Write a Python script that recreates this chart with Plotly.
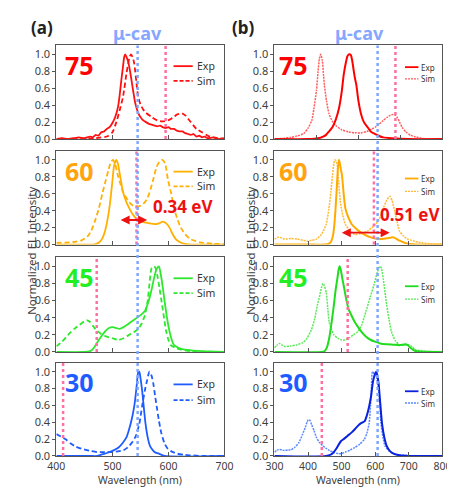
import plotly.graph_objects as go

# ---------------- data (wavelength nm, normalized EL) ----------------
# (a) column
a75_exp_wl = [400,410,420,430,440,450,460,465,470,475,480,485,490,495,500,505,510,513,516,519,521,523,525,528,531,534,537,540,543,546,550,555,560,565,570,575,580,585,590,595,600,605,610,615,620,625,630,635,640,645,650,655,660,665,670,680,690,700]
a75_exp = [0.0,0.01,0.0,0.01,0.02,0.01,0.03,0.02,0.05,0.04,0.08,0.09,0.12,0.14,0.19,0.26,0.38,0.52,0.7,0.86,0.97,1.0,0.97,0.92,0.82,0.7,0.57,0.45,0.37,0.31,0.26,0.22,0.2,0.18,0.17,0.16,0.15,0.16,0.14,0.13,0.14,0.12,0.12,0.1,0.09,0.09,0.07,0.06,0.05,0.06,0.03,0.04,0.02,0.03,0.01,0.02,0.0,0.01]
a75_sim_wl = [400,440,470,480,490,500,507,513,519,525,530,533,536,539,543,546,550,555,560,570,580,590,599,605,610,615,620,625,630,635,640,650,660,670,680,700]
a75_sim = [0.0,0.0,0.01,0.02,0.03,0.08,0.2,0.34,0.5,0.77,0.95,1.0,0.97,0.89,0.66,0.5,0.41,0.35,0.31,0.26,0.22,0.21,0.22,0.24,0.26,0.29,0.3,0.3,0.28,0.24,0.2,0.12,0.08,0.04,0.02,0.0]

a60_exp_wl = [400,450,467,475,480,485,490,495,500,503,507,510,514,519,525,530,537,545,552,559,566,576,583,590,596,602,607,613,620,627,640,700]
a60_exp = [0,0,0.0,0.02,0.05,0.12,0.25,0.45,0.75,0.93,1.0,0.95,0.8,0.62,0.5,0.43,0.35,0.29,0.27,0.26,0.25,0.24,0.25,0.27,0.25,0.2,0.13,0.065,0.03,0.01,0,0]
a60_sim_wl = [400,430,445,455,462,470,476,482,487,493,497,501,505,510,515,519,525,530,537,547,555,562,568,573,578,584,589,594,599,605,610,616,622,630,639,656,680,700]
a60_sim = [0.02,0.03,0.05,0.09,0.16,0.3,0.43,0.6,0.73,0.88,0.97,1.0,0.95,0.81,0.7,0.62,0.55,0.5,0.46,0.45,0.48,0.54,0.65,0.77,0.9,0.98,1.0,0.96,0.77,0.6,0.43,0.3,0.2,0.12,0.065,0.027,0.01,0.005]

a45_exp_wl = [400,450,460,466,472,480,487,494,501,507,513,520,527,535,546,552,558,564,570,575,579,583,586,590,593,597,601,606,610,618,627,640,660,700]
a45_exp = [0,0,0.01,0.04,0.1,0.18,0.24,0.28,0.29,0.28,0.27,0.29,0.32,0.36,0.41,0.44,0.48,0.58,0.73,0.88,0.97,1.0,0.92,0.75,0.6,0.42,0.27,0.14,0.08,0.05,0.03,0.02,0.01,0]
a45_sim_wl = [400,410,421,432,444,450,455,460,467,472,478,486,494,501,510,520,530,538,546,552,558,563,567,570,574,577,580,584,587,591,596,600,604,612,621,640,700]
a45_sim = [0.065,0.12,0.2,0.27,0.33,0.36,0.37,0.35,0.29,0.25,0.22,0.19,0.17,0.16,0.14,0.16,0.2,0.23,0.27,0.33,0.43,0.6,0.85,0.98,1.0,0.98,0.9,0.75,0.62,0.45,0.24,0.14,0.08,0.05,0.03,0.01,0.0]

a30_exp_wl = [400,460,473,480,490,502,511,519,525,530,535,539,542,544,546,548,550,553,556,559,563,567,572,577,582,593,700]
a30_exp = [0,0,0.0,0.015,0.035,0.066,0.1,0.16,0.22,0.32,0.45,0.59,0.75,0.88,0.99,1.0,0.93,0.78,0.58,0.39,0.22,0.12,0.07,0.04,0.03,0,0]
a30_sim_wl = [400,408,416,425,435,445,460,473,490,502,510,519,525,530,536,542,548,553,558,562,566,570,573,576,579,583,587,593,599,608,616,627,639,660,700]
a30_sim = [0.26,0.23,0.2,0.15,0.11,0.085,0.06,0.046,0.045,0.046,0.055,0.066,0.09,0.12,0.17,0.24,0.38,0.59,0.78,0.9,1.0,0.95,0.86,0.72,0.59,0.42,0.28,0.15,0.085,0.045,0.027,0.015,0.008,0.0,0.0]

# (b) column
b75_exp_wl = [300,380,404,416,423,430,438,446,454,460,465,470,474,478,482,485,489,492,495,500,506,513,522,529,537,548,559,580,620,700]
b75_exp = [0,0,0.01,0.03,0.05,0.09,0.14,0.23,0.37,0.55,0.76,0.9,0.98,1.0,0.99,0.93,0.8,0.71,0.64,0.45,0.3,0.2,0.14,0.09,0.066,0.04,0.02,0.01,0,0]
b75_sim_wl = [300,309,324,339,356,370,380,389,394,400,404,407,410,414,417,419,424,430,438,446,460,476,492,506,520,532,540,548,559,569,576,582,588,593,598,604,613,624,635,658,700]
b75_sim = [0,0.004,0.01,0.02,0.04,0.066,0.13,0.22,0.36,0.57,0.8,0.95,1.0,0.93,0.75,0.64,0.45,0.3,0.21,0.16,0.11,0.085,0.075,0.073,0.09,0.12,0.14,0.17,0.22,0.26,0.28,0.29,0.28,0.25,0.2,0.14,0.085,0.045,0.027,0.004,0]

b60_exp_wl = [300,400,450,462,468,474,478,482,486,489,492,495,498,501,506,511,520,530,545,558,572,587,600,615,635,653,662,672,682,691,720,800]
b60_exp = [0,0,0,0.01,0.03,0.1,0.22,0.43,0.7,0.9,1.0,0.95,0.88,0.82,0.6,0.43,0.32,0.24,0.18,0.14,0.11,0.085,0.07,0.065,0.075,0.085,0.07,0.046,0.03,0.015,0,0]
b60_sim_wl = [300,311,320,330,350,368,385,397,410,425,440,454,462,468,473,477,480,484,487,491,496,503,511,525,539,558,577,590,601,612,624,634,643,650,658,665,672,684,696,729,760,800]
b60_sim = [0.065,0.085,0.08,0.065,0.07,0.065,0.05,0.04,0.05,0.065,0.12,0.24,0.42,0.62,0.82,0.96,1.0,0.98,0.93,0.75,0.51,0.35,0.24,0.16,0.12,0.13,0.16,0.2,0.24,0.3,0.43,0.52,0.57,0.52,0.39,0.27,0.16,0.1,0.065,0.027,0.01,0]

b45_exp_wl = [300,440,449,456,463,470,477,482,487,491,494,498,502,506,513,520,530,539,549,558,572,587,600,615,634,653,672,691,698,705,715,724,800]
b45_exp = [0,0,0.008,0.05,0.16,0.34,0.55,0.72,0.85,0.96,1.0,0.95,0.86,0.78,0.63,0.51,0.42,0.35,0.29,0.24,0.18,0.14,0.12,0.1,0.09,0.085,0.08,0.09,0.075,0.046,0.02,0.008,0]
b45_sim_wl = [300,308,316,323,330,349,368,385,397,410,420,428,435,440,444,448,454,459,463,470,477,489,501,510,520,535,549,560,572,585,596,606,612,615,619,624,629,634,641,648,660,672,686,700,710,719,748,800]
b45_sim = [0.046,0.08,0.1,0.08,0.065,0.07,0.085,0.11,0.16,0.26,0.39,0.55,0.66,0.75,0.8,0.78,0.7,0.5,0.35,0.26,0.2,0.16,0.14,0.14,0.16,0.2,0.24,0.32,0.47,0.64,0.78,0.93,0.99,1.0,0.97,0.85,0.7,0.55,0.38,0.24,0.13,0.085,0.08,0.085,0.06,0.027,0.008,0]

b30_exp_wl = [300,454,473,483,492,499,506,518,530,540,549,558,568,575,582,588,592,596,600,603,606,610,615,620,627,634,643,653,672,700,800]
b30_exp = [0,0,0.03,0.08,0.14,0.18,0.2,0.24,0.28,0.32,0.36,0.39,0.41,0.48,0.59,0.72,0.85,0.93,0.98,1.0,0.96,0.86,0.62,0.39,0.22,0.12,0.06,0.03,0.008,0,0]
b30_sim_wl = [300,308,316,323,330,340,349,360,373,383,392,397,401,406,411,418,425,434,444,454,463,478,492,500,511,525,539,554,568,575,582,586,589,591,594,596,600,604,607,610,614,617,623,629,641,653,670,691,720,800]
b30_sim = [0.046,0.07,0.077,0.07,0.066,0.07,0.073,0.1,0.16,0.25,0.34,0.4,0.43,0.42,0.37,0.3,0.22,0.16,0.12,0.09,0.066,0.04,0.027,0.03,0.046,0.07,0.1,0.14,0.2,0.27,0.39,0.6,0.85,0.99,1.0,0.97,0.95,0.93,0.85,0.78,0.6,0.39,0.22,0.12,0.06,0.03,0.015,0.008,0.0,0]

angles = ["75", "60", "45", "30"]
pink_a = [595, 543, 472, 412]      # per-panel pink markers, column (a)
pink_b = [588, 596, 518, 441]      # per-panel pink markers, column (b)
mucav_a = 545
mucav_b = 607
x_ranges_a = [[400, 700]] * 4
x_ranges_b = [[300, 700], [300, 800], [300, 800], [300, 800]]
ticks_a = [400, 500, 600, 700]
ticks_b = [300, 400, 500, 600, 700, 800]
split_a = ("0.34 eV", 512, 562, 0.29)
split_b = ("0.51 eV", 496, 643, 0.14)

# ---------------- styling ----------------
col_a = ["#ff1010", "#ffb000", "#2de82d", "#1f5cff"]
col_b_exp = ["#ff0000", "#ffaa00", "#1fdc1f", "#0a22dd"]
col_b_sim = ["#ff5c5c", "#ffbb33", "#5ae85a", "#5a88ff"]
lab_col = ["#ff0000", "#ffa30f", "#22ee22", "#1f5cff"]
PINK = "#ff6fa0"
BLUE = "#7ea6ff"
FONT = "Noto Sans"

W, H = 455, 487
def px(x): return x / W
def py(y): return 1 - y / H

xdom = [[px(41), px(216)], [px(268), px(443)]]
rows_px = [(38, 133), (145, 240), (253, 349), (360, 454.5)]
ydom = [[py(b), py(t)] for (t, b) in rows_px]

data_a = [(a75_exp_wl, a75_exp, a75_sim_wl, a75_sim), (a60_exp_wl, a60_exp, a60_sim_wl, a60_sim),
          (a45_exp_wl, a45_exp, a45_sim_wl, a45_sim), (a30_exp_wl, a30_exp, a30_sim_wl, a30_sim)]
data_b = [(b75_exp_wl, b75_exp, b75_sim_wl, b75_sim), (b60_exp_wl, b60_exp, b60_sim_wl, b60_sim),
          (b45_exp_wl, b45_exp, b45_sim_wl, b45_sim), (b30_exp_wl, b30_exp, b30_sim_wl, b30_sim)]

fig = go.Figure()
layout = dict(width=W, height=H, margin=dict(l=0, r=0, t=0, b=0),
              paper_bgcolor="white", plot_bgcolor="white", showlegend=False,
              font=dict(family=FONT, color="#404040", size=11))
shapes, annos = [], []

for r in range(4):
    for c in range(2):
        i = r * 2 + c + 1
        xs = "" if i == 1 else str(i)
        xn, yn = "x" + xs, "y" + xs
        if c == 0:
            ew, ev, sw, sv = data_a[r]
            fig.add_trace(go.Scatter(x=sw, y=sv, mode="lines", xaxis=xn, yaxis=yn,
                                     line=dict(color=col_a[r], width=1.8, dash="5px,3px", shape="spline", smoothing=0.6)))
            fig.add_trace(go.Scatter(x=ew, y=ev, mode="lines", xaxis=xn, yaxis=yn,
                                     line=dict(color=col_a[r], width=1.8, shape="spline", smoothing=0.6 if r else 0.3)))
        else:
            ew, ev, sw, sv = data_b[r]
            fig.add_trace(go.Scatter(x=sw, y=sv, mode="lines", xaxis=xn, yaxis=yn,
                                     line=dict(color=col_b_sim[r], width=1.5, dash="2px,1px", shape="spline", smoothing=0.6)))
            fig.add_trace(go.Scatter(x=ew, y=ev, mode="lines", xaxis=xn, yaxis=yn,
                                     line=dict(color=col_b_exp[r], width=2.0, shape="spline", smoothing=0.6)))
        xr = x_ranges_a[r] if c == 0 else x_ranges_b[r]
        tv = [t for t in (ticks_a if c == 0 else ticks_b) if xr[0] <= t <= xr[1]]
        layout["xaxis" + xs] = dict(domain=xdom[c], anchor=yn, range=xr, tickvals=tv,
                                    showticklabels=(r == 3), ticks="inside", ticklen=4, tickcolor="#555",
                                    showline=True, linecolor="#555", linewidth=1, mirror=True,
                                    showgrid=False, zeroline=False, ticklabeloverflow="allow",
                                    tickfont=dict(size=10.5, color="#404040"))
        layout["yaxis" + xs] = dict(domain=ydom[r], anchor=xn, range=[0, 1.105],
                                    tickvals=[0, 0.2, 0.4, 0.6, 0.8, 1.0], tickformat=".1f",
                                    ticks="outside", ticklen=3, tickcolor="#555",
                                    showline=True, linecolor="#555", linewidth=1, mirror=True,
                                    showgrid=False, zeroline=False, tickfont=dict(size=11, color="#404040"))
        # pink marker line per panel
        pw = pink_a[r] if c == 0 else pink_b[r]
        shapes.append(dict(type="line", xref=xn, yref=yn + " domain", x0=pw, x1=pw, y0=0, y1=1,
                           line=dict(color=PINK, width=2.5, dash="dot")))
        # angle label
        annos.append(dict(text="<b>%s</b>" % angles[r], xref=xn + " domain", yref=yn + " domain",
                          x=0.14 if c == 0 else 0.115, y=0.79, xanchor="center", yanchor="middle",
                          showarrow=False, font=dict(size=25, color=lab_col[r], family=FONT)))
        # legend
        if c == 0:
            off = [(21, 36), (21, 36), (21, 36), (22, 38)][r]
            lx0, lx1, tx, fs = 0.697, 0.811, 0.823, 10.5
            ecol, scol, sdash, sw_ = col_a[r], col_a[r], "4px,2px", 1.8
        else:
            off = [(22, 34), (28, 41), (29, 42), (29, 41)][r]
            lx0, lx1, tx, fs = 0.777, 0.857, 0.863, 8
            ecol, scol, sdash, sw_ = col_b_exp[r], col_b_sim[r], "2px,1px", 1.3
        ye, ys = 1 - off[0] / 95, 1 - off[1] / 95
        shapes.append(dict(type="line", xref=xn + " domain", yref=yn + " domain", x0=lx0, x1=lx1, y0=ye, y1=ye,
                           line=dict(color=ecol, width=1.8)))
        shapes.append(dict(type="line", xref=xn + " domain", yref=yn + " domain", x0=lx0, x1=lx1, y0=ys, y1=ys,
                           line=dict(color=scol, width=sw_, dash=sdash)))
        annos.append(dict(text="Exp", xref=xn + " domain", yref=yn + " domain", x=tx, y=ye,
                          xanchor="left", yanchor="middle", showarrow=False, font=dict(size=fs, color="#333")))
        annos.append(dict(text="Sim", xref=xn + " domain", yref=yn + " domain", x=tx, y=ys,
                          xanchor="left", yanchor="middle", showarrow=False, font=dict(size=fs, color="#333")))

# continuous micro-cavity lines through each column (bottom panel axes)
shapes.append(dict(type="line", xref="x7", yref="paper", x0=mucav_a, x1=mucav_a,
                   y0=ydom[3][0], y1=ydom[0][1], line=dict(color=BLUE, width=2.5, dash="dot")))
shapes.append(dict(type="line", xref="x8", yref="paper", x0=mucav_b, x1=mucav_b,
                   y0=ydom[3][0], y1=ydom[0][1], line=dict(color=BLUE, width=2.5, dash="dot")))

# splitting arrows
for (txt, x0, x1, yv), xn, yn, tx_, ty_ in [(split_a, "x3", "y3", 627, 0.45), (split_b, "x4", "y4", 706, 0.35)]:
    annos.append(dict(x=x1, y=yv, ax=x0, ay=yv, xref=xn, yref=yn, axref=xn, ayref=yn, text="",
                      showarrow=True, arrowhead=2, startarrowhead=2, arrowside="end+start",
                      arrowsize=1, startarrowsize=1, arrowwidth=1.8, arrowcolor="#ee1111"))
    annos.append(dict(x=tx_, y=ty_, xref=xn, yref=yn, text="<b>%s</b>" % txt, showarrow=False,
                      xanchor="center", yanchor="middle", font=dict(size=17, color="#ee1111")))

# panel labels, titles
annos.append(dict(text="<b>(a)</b>", xref="paper", yref="paper", x=px(26), y=py(20), showarrow=False,
                  xanchor="center", yanchor="middle", font=dict(size=17, color="#222")))
annos.append(dict(text="<b>(b)</b>", xref="paper", yref="paper", x=px(236), y=py(20), showarrow=False,
                  xanchor="center", yanchor="middle", font=dict(size=17, color="#222")))
annos.append(dict(text="<b>μ-cav</b>", xref="paper", yref="paper", x=px(125), y=py(25), showarrow=False,
                  xanchor="center", yanchor="middle", font=dict(size=18, color="#86a6ff")))
annos.append(dict(text="<b>μ-cav</b>", xref="paper", yref="paper", x=px(357), y=py(25), showarrow=False,
                  xanchor="center", yanchor="middle", font=dict(size=18, color="#86a6ff")))
for xx in (15, 243):
    annos.append(dict(text="Normalized EL Intensity", xref="paper", yref="paper", x=px(xx), y=py(246),
                      textangle=-90, showarrow=False, xanchor="center", yanchor="middle",
                      font=dict(size=11.5, color="#404040")))
for xx in (128, 355):
    annos.append(dict(text="Wavelength (nm)", xref="paper", yref="paper", x=px(xx), y=py(487),
                      showarrow=False, xanchor="center", yanchor="bottom", borderpad=0,
                      font=dict(size=10.5, color="#404040")))

layout["shapes"] = shapes
layout["annotations"] = annos
fig.update_layout(**layout)
fig.write_html("out.html")
